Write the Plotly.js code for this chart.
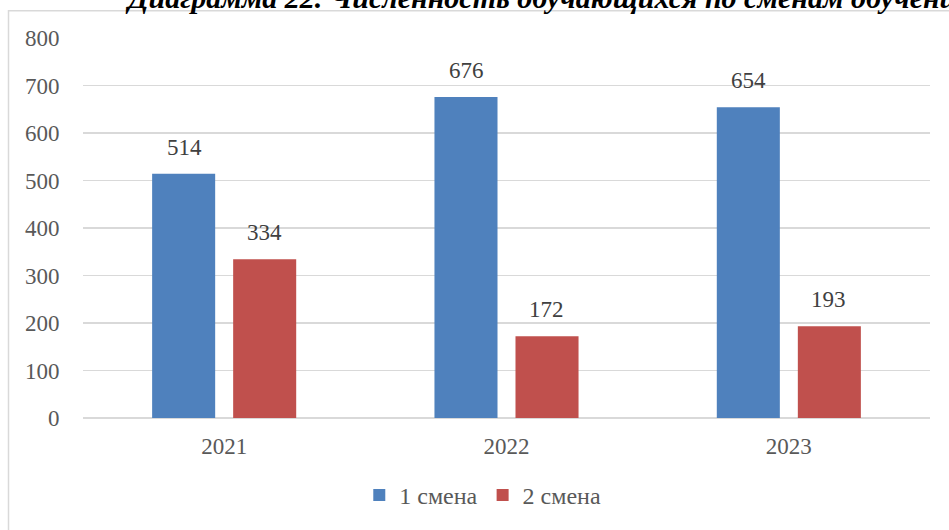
<!DOCTYPE html>
<html>
<head>
<meta charset="utf-8">
<script src="https://cdn.plot.ly/plotly-3.0.1.min.js"></script>
<style>
html,body{margin:0;padding:0;background:#fff;}
#chart{width:949px;height:530px;}
</style>
</head>
<body>
<div id="chart"></div>
<script>
const categories = ["2021", "2022", "2023"];
const shift1 = [514, 676, 654];
const shift2 = [334, 172, 193];
const seriesNames = ["1 смена", "2 смена"];
const titleText = "Диаграмма 22. Численность обучающихся по сменам обучения";
const yTicks = [0, 100, 200, 300, 400, 500, 600, 700, 800];

const serif = "Liberation Serif";

const traces = [
  {type: "bar", name: seriesNames[0], x: categories, y: shift1,
   marker: {color: "#4f81bd"}, hoverinfo: "none"},
  {type: "bar", name: seriesNames[1], x: categories, y: shift2,
   marker: {color: "#c0504d"}, hoverinfo: "none"}
];

const annotations = [];
[shift1, shift2].forEach((vals, si) => {
  vals.forEach((v, i) => {
    annotations.push({
      x: i, y: v, xref: "x", yref: "y",
      text: String(v), showarrow: false,
      xshift: si === 0 ? -40 : 40, yshift: 12,
      yanchor: "bottom",
      font: {family: serif, size: 23, color: "#404040"}
    });
  });
});
// chart title, partly cut by the top edge as in the reference
annotations.push({
  text: "<b><i>" + titleText + "</i></b>",
  xref: "paper", yref: "paper",
  x: (123 - 83) / 847, xanchor: "left",
  y: (420 + 3) / 382, yanchor: "middle",
  showarrow: false,
  font: {family: serif, size: 30, color: "#000000"}
});

const layout = {
  width: 949, height: 530,
  font: {family: serif},
  margin: {l: 83, r: 19, t: 38, b: 110},
  paper_bgcolor: "#ffffff", plot_bgcolor: "#ffffff",
  barmode: "group", bargap: 0.426, bargroupgap: 0.222,
  xaxis: {
    type: "category", categoryorder: "array", categoryarray: categories,
    range: [-0.5, 2.5],
    showgrid: false, zeroline: false,
    showline: false, ticks: "outside", ticklen: 7, tickcolor: "rgba(0,0,0,0)",
    tickfont: {family: serif, size: 23, color: "#595959"}
  },
  yaxis: {
    range: [0, 800], tickvals: yTicks, showgrid: true,
    gridcolor: "#d9d9d9", gridwidth: 1.3, zeroline: true, zerolinecolor: "#d9d9d9",
    zerolinewidth: 1.3, showline: false,
    ticks: "outside", ticklen: 18, tickcolor: "rgba(0,0,0,0)",
    tickfont: {family: serif, size: 23, color: "#595959"}
  },
  showlegend: true,
  legend: {
    orientation: "h", x: 0.472, xanchor: "center", y: -0.204, yanchor: "middle",
    font: {family: serif, size: 24, color: "#595959"},
    traceorder: "normal"
  },
  shapes: [{
    type: "rect", xref: "paper", yref: "paper",
    x0: (8.5 - 83) / 847, x1: (980 - 83) / 847,
    y0: (420 - 560) / 382, y1: (420 - 10.5) / 382,
    line: {color: "#d9d9d9", width: 1.5}, fillcolor: "rgba(0,0,0,0)", layer: "below"
  }],
  annotations: annotations
};

Plotly.newPlot("chart", traces, layout, {displayModeBar: false, staticPlot: true});
</script>
</body>
</html>
